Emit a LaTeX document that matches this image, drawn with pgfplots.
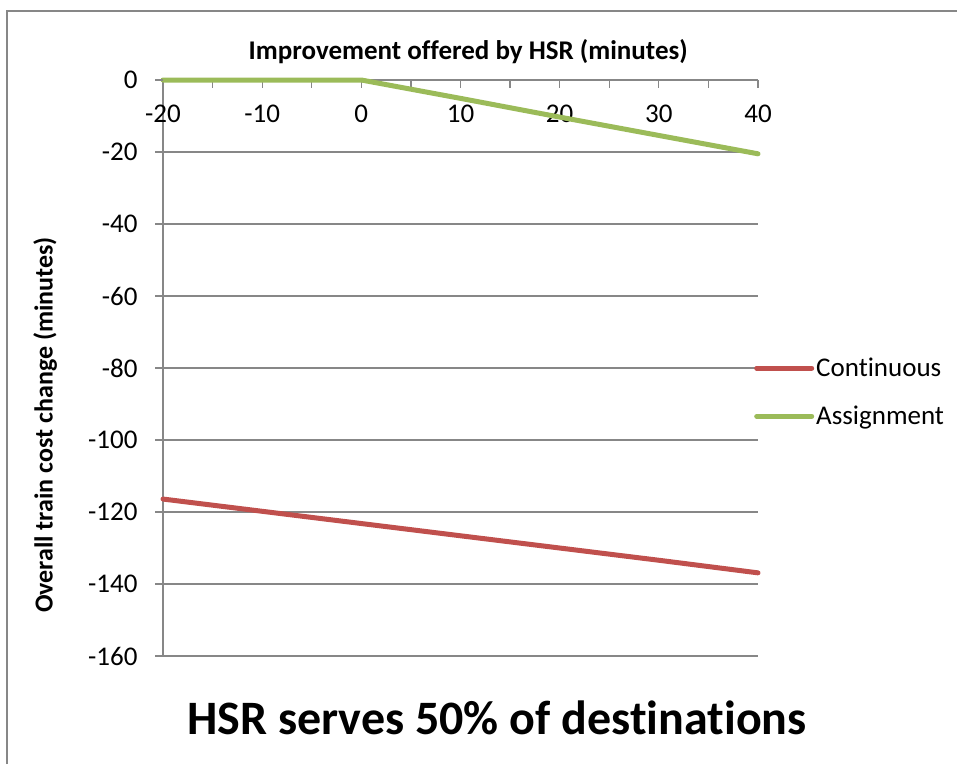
\documentclass[border=0pt]{standalone}
\usepackage{pgfplots}
\pgfplotsset{compat=1.18}
\usepackage{fontspec}
\setmainfont{Carlito}[Ligatures={NoCommon}]
\definecolor{exred}{HTML}{C0504D}
\definecolor{exgreen}{HTML}{9BBB59}
\definecolor{gridgray}{HTML}{878787}
\begin{document}
\begin{tikzpicture}[x=1pt,y=1pt]
\path[use as bounding box] (0,0) rectangle (957,-764);
\draw[gridgray, line width=1.5pt] (7,-764) -- (7,-11) -- (957,-11);
\begin{axis}[
  at={(163pt,-656pt)}, anchor=south west,
  scale only axis, width=595pt, height=576pt,
  xmin=-20, xmax=40, ymin=-160, ymax=0,
  axis x line*=top, axis y line*=left,
  axis line style={gridgray, line width=1.3pt, -},
  xtick={-20,-10,...,40},
  xticklabels={-20,-10,0,10,20,30,40},
  minor xtick={-15,-5,...,35},
  ytick={-160,-140,...,0},
  yticklabels={-160,-140,-120,-100,-80,-60,-40,-20,0},
  tick align=inside,
  major tick length=8pt, minor tick length=8pt,
  tick style={gridgray, line width=1.3pt},
  ymajorgrids, grid style={gridgray, line width=1.3pt},
  xticklabel pos=upper,
  xticklabel style={anchor=north, yshift=-21pt, font=\fontsize{27}{32}\selectfont},
  yticklabel style={font=\fontsize{27}{32}\selectfont, xshift=-22pt},
  xlabel={\textbf{Improvement offered by HSR (minutes)}},
  xlabel style={at={(axis description cs:0.513,1)}, anchor=center, yshift=28pt, font=\fontsize{27}{32}\selectfont},
  ylabel={\textbf{Overall train cost change (minutes)}},
  ylabel style={at={(axis description cs:-0.198,0.401)}, anchor=center, font=\fontsize{26}{31}\selectfont},
  legend style={at={(1,0.458)}, anchor=west, xshift=-4pt, draw=none, fill=none,
    font=\fontsize{27}{32}\selectfont, row sep=24pt, inner sep=0pt,
    /tikz/every even column/.append style={column sep=2pt}},
  legend cell align=left,
  legend image code/.code={\draw[#1, line cap=round] (0pt,0pt) -- (55pt,0pt);},
  clip=false,
]
\addplot[exred, line width=5pt, line cap=round] coordinates {
(-20,-116.4) (-10,-119.8) (0,-123.2) (10,-126.6) (20,-130.0) (30,-133.4) (40,-136.9)};
\addlegendentry{Continuous}
\addplot[exgreen, line width=5pt, line cap=round] coordinates {
(-20,0) (-10,0) (0,0) (10,-5.1) (20,-10.3) (30,-15.4) (40,-20.5)};
\addlegendentry{Assignment}
\pgfplotsinvokeforeach{-160,-140,...,0}{
  \draw[gridgray, line width=1.3pt] (axis cs:-20,#1) -- ++(-8pt,0pt);
}
\end{axis}
\node[font=\fontsize{48}{56}\selectfont\bfseries] at (497,-718) {HSR serves 50\% of destinations};
\end{tikzpicture}
\end{document}
